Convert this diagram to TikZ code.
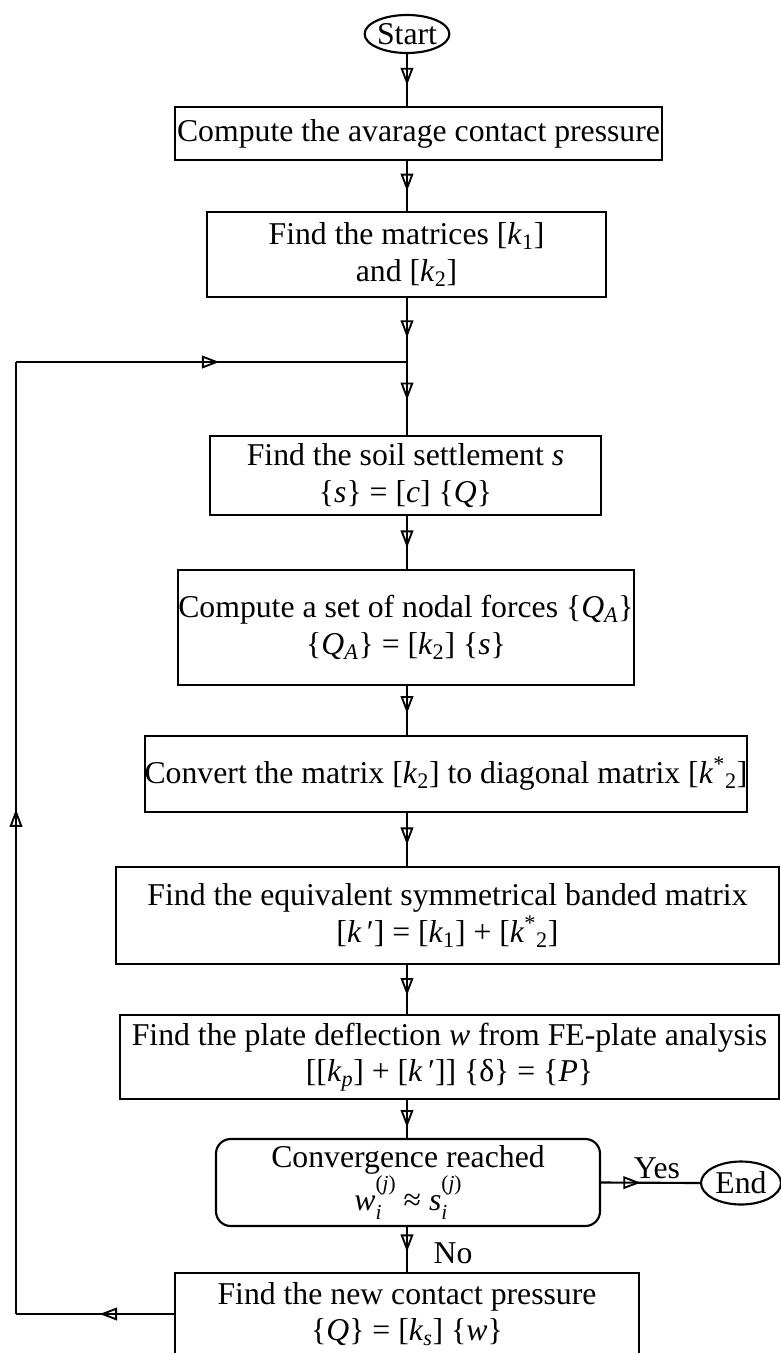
\documentclass[tikz,border=0pt]{standalone}
\usepackage{fontspec}
\setmainfont{Liberation Serif}
\usetikzlibrary{arrows.meta,decorations.markings,shapes.geometric}
\newdimen\pxu \pxu=0.75pt
\newcommand\flowfont{\fontsize{23.8pt}{27.3pt}\selectfont}
\newcommand\smallidx{\fontsize{16pt}{16pt}\selectfont}
\newcommand\subsup[2]{\makebox[0pt][l]{\raisebox{-0.28em}{\smallidx #1}}\raisebox{0.62em}{\smallidx #2}}
\tikzset{
  box/.style={draw, line width=1.6pt, rectangle, inner sep=0pt, align=center, font=\flowfont},
  term/.style={draw, ellipse, line width=1.6pt, inner sep=0pt, font=\flowfont},
  conn/.style={line width=1.6pt},
  lbl/.style={font=\flowfont, inner sep=0pt},
  midarrow/.style={postaction={decorate}, decoration={markings, mark=at position #1 with {\arrow{Triangle[open,length=13pt,width=9.5pt,line width=1.4pt]}}}},
}
\begin{document}
\begin{tikzpicture}[x=0.75pt,y=-0.75pt]
\useasboundingbox (0,0) rectangle (781,1353);
\clip (0,0) rectangle (781,1353);
\node[term, minimum width=78\pxu, minimum height=38\pxu] (start) at (407,34) {Start};
\node[box, minimum width=487\pxu, minimum height=53\pxu] (b1) at (418.5,133.5) {Compute the avarage contact pressure};
\node[box, minimum width=399\pxu, minimum height=85\pxu] (b2) at (406.5,254.5) {Find the matrices [\textit{k}\textsubscript{1}]\\and [\textit{k}\textsubscript{2}]};
\coordinate (j) at (407,362);
\node[box, minimum width=391\pxu, minimum height=79\pxu] (b3) at (405.5,475.5) {Find the soil settlement \textit{s}\\\relax\{\textit{s}\} = [\textit{c}] \{\textit{Q}\}};
\node[box, minimum width=444\pxu, minimum height=115\pxu] (b4) at (406,627.5) {Compute a set of nodal forces \{\textit{Q}\textsubscript{\textit{A}}\}\\\relax\{\textit{Q}\textsubscript{\textit{A}}\} = [\textit{k}\textsubscript{2}] \{\textit{s}\}};
\node[box, minimum width=568\pxu, minimum height=76\pxu] (b5) at (446,774) {Convert the matrix [\textit{k}\textsubscript{2}] to diagonal matrix [\textit{k}\textsuperscript{*}\textsubscript{2}]};
\node[box, minimum width=663\pxu, minimum height=97\pxu] (b6) at (447.5,915.5) {Find the equivalent symmetrical banded matrix\\\relax[\textit{k}\,′] = [\textit{k}\textsubscript{1}] + [\textit{k}\textsuperscript{*}\textsubscript{2}]};
\node[box, minimum width=659\pxu, minimum height=84\pxu] (b7) at (449.5,1057) {Find the plate deflection \textit{w} from FE-plate analysis\\\relax[[\textit{k}\textsubscript{\textit{p}}] + [\textit{k}\,′]] \{δ\} = \{\textit{P}\}};
\node[box, rounded corners=11pt, minimum width=384\pxu, minimum height=87\pxu] (dec) at (408,1182.5) {Convergence reached\\\textit{w}\subsup{\textit{i}}{(\textit{j})} ≈ \textit{s}\subsup{\textit{i}}{(\textit{j})}};
\node[term, minimum width=80\pxu, minimum height=43\pxu] (end) at (741,1183) {End};
\node[box, minimum width=464\pxu, minimum height=82\pxu] (bot) at (407,1314) {Find the new contact pressure\\\relax\{\textit{Q}\} = [\textit{k}\textsubscript{\textit{s}}] \{\textit{w}\}};
\coordinate (fb1) at (16,1314);
\coordinate (fb2) at (16,362);
\node[lbl] (yes) at (657,1168) {Yes};
\node[lbl] (no) at (453,1253) {No};
\draw[conn, midarrow=0.6] (start.south) -- (start.south |- b1.north);
\draw[conn, midarrow=0.6] (j |- b1.south) -- (j |- b2.north);
\draw[conn, midarrow=0.62] (j |- b2.south) -- (j);
\draw[conn, midarrow=0.52] (j) -- (j |- b3.north);
\draw[conn, midarrow=0.6] (j |- b3.south) -- (j |- b4.north);
\draw[conn, midarrow=0.56] (j |- b4.south) -- (j |- b5.north);
\draw[conn, midarrow=0.6] (j |- b5.south) -- (j |- b6.north);
\draw[conn, midarrow=0.62] (j |- b6.south) -- (j |- b7.north);
\draw[conn, midarrow=0.72] (j |- b7.south) -- (j |- dec.north);
\draw[conn, midarrow=0.55] (j |- dec.south) -- (j |- bot.north);
\draw[conn, midarrow=0.4] (dec.east) -- (end.west);
\draw[conn, midarrow=0.47] (bot.west) -- (fb1);
\draw[conn, midarrow=0.53] (fb1) -- (fb2);
\draw[conn, midarrow=0.52] (fb2) -- (j);
\end{tikzpicture}
\end{document}
